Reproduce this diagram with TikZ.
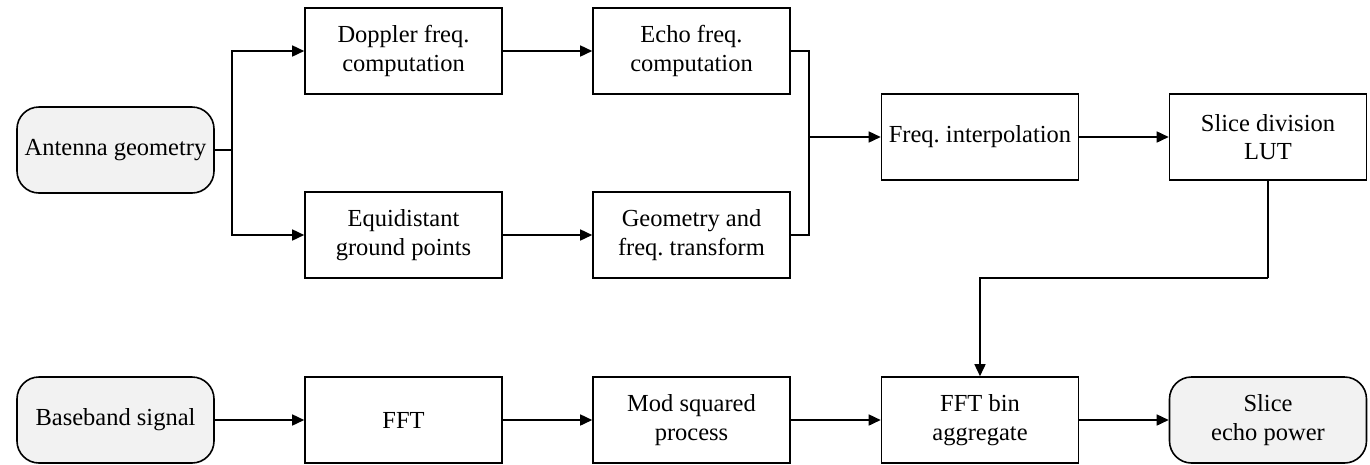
\documentclass[tikz,border=0pt]{standalone}
\usepackage{fontspec}
\setmainfont{Liberation Serif}
\usetikzlibrary{arrows.meta}
\frenchspacing
\begin{document}
\begin{tikzpicture}[x=1pt,y=-1pt,
  blk/.style={draw=black,line width=1.6pt,minimum width=197pt,minimum height=86pt,
    inner sep=2pt,align=center,font=\fontsize{24.5}{28.5}\selectfont},
  term/.style={blk,rounded corners=22pt,fill=gray!10},
  conn/.style={line width=1.6pt},
  arr/.style={conn,-{Triangle[length=12pt,width=11pt]}}]
\useasboundingbox (0,0) rectangle (1370,464);
\node[term] (ant) at (115.5,150) {Antenna geometry};
\node[blk] (dop) at (403.5,51) {Doppler freq.\\computation};
\node[blk] (echo) at (691.5,51) {Echo freq.\\computation};
\node[blk] (equi) at (403.5,235) {Equidistant\\ground points};
\node[blk] (geo) at (691.5,235) {Geometry and\\freq. transform};
\node[blk] (interp) at (980,137) {Freq. interpolation};
\node[blk] (lut) at (1268,137) {Slice division\\LUT};
\node[term] (base) at (115.5,420) {Baseband signal};
\node[blk] (fft) at (403.5,420) {FFT};
\node[blk] (mod) at (691.5,420) {Mod squared\\process};
\node[blk] (bin) at (980,420) {FFT bin\\aggregate};
\node[term] (pow) at (1268,420) {Slice\\echo power};
\coordinate (split) at (232,150);
\coordinate (merge) at (809,137);
\coordinate (turn) at (1268,278);
\draw[conn] (ant.east) -- (split);
\draw[arr] (split) |- (dop.west);
\draw[arr] (split) |- (equi.west);
\draw[arr] (dop) -- (echo);
\draw[arr] (equi) -- (geo);
\draw[conn] (echo.east) -| (merge);
\draw[conn] (geo.east) -| (merge);
\draw[arr] (merge) -- (interp.west);
\draw[arr] (interp) -- (lut);
\draw[conn] (lut.south) -- (turn);
\draw[arr] (turn) -| (bin.north);
\draw[arr] (base) -- (fft);
\draw[arr] (fft) -- (mod);
\draw[arr] (mod) -- (bin);
\draw[arr] (bin) -- (pow);
\end{tikzpicture}
\end{document}
